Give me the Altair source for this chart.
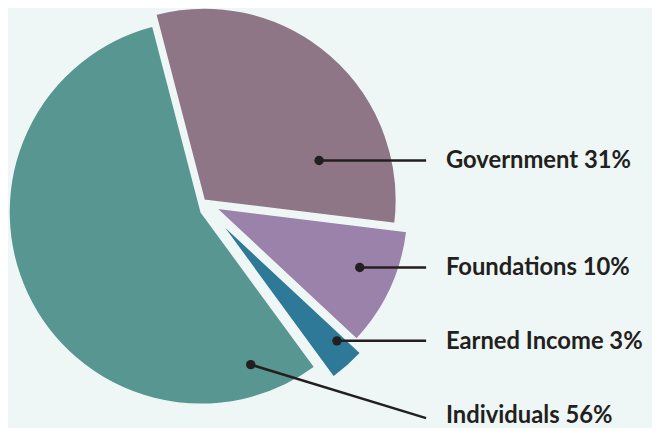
import math
import altair as alt
import pandas as pd

# ---- data ----
categories = ["Government", "Foundations", "Earned Income", "Individuals"]
shares = [31, 10, 3, 56]
labels = ["Government 31%", "Foundations 10%", "Earned Income 3%", "Individuals 56%"]
colors = ["#8f7686", "#9a82aa", "#2e7898", "#589692"]

# ---- layout (reference pixel space) ----
BG = "#eef7f5"
INK = "#231f20"
M = 8
W, H = 650, 420
START = math.radians(-14.6)
R = 194
centers = {
    "Government": (206, 200),
    "Foundations": (218, 208),
    "Earned Income": (222, 222),
    "Individuals": (203, 212),
}
dot_x = [322, 363, 340, 253]
dot_y = [160, 268, 342, 366]
end_x = [430, 430, 430, 430]
end_y = [160, 268, 342, 420]
text_x = [450, 450, 450, 450]
text_y = [161, 269, 343, 418]

pie_df = pd.DataFrame({"category": categories, "share": shares, "idx": list(range(len(categories)))})
ann_df = pd.DataFrame({
    "label": labels, "dx": dot_x, "dy": dot_y, "ex": end_x, "ey": end_y,
    "tx": text_x, "ty": text_y,
})

theta_scale = alt.Scale(domain=[0, 100], range=[START, START + 2 * math.pi])
color_scale = alt.Scale(domain=categories, range=colors)

base = alt.Chart(pie_df).transform_window(
    end="sum(share)", sort=[{"field": "idx"}], frame=[None, 0]
).transform_calculate(start="datum.end - datum.share")

arcs = []
for cat in categories:
    cx, cy = centers[cat]
    arcs.append(
        base.transform_filter(alt.datum.category == cat)
        .mark_arc(radius=R, stroke=BG, strokeWidth=1.5)
        .encode(
            theta=alt.Theta("start:Q", scale=theta_scale),
            theta2="end:Q",
            color=alt.Color("category:N", scale=color_scale, legend=None),
            x=alt.value(cx - M),
            y=alt.value(cy - M),
        )
    )

xs = alt.Scale(domain=[M, M + W], nice=False, zero=False)
ys = alt.Scale(domain=[M, M + H], nice=False, zero=False, reverse=True)

ann = alt.Chart(ann_df)
lines = ann.mark_rule(color=INK, strokeWidth=2.5).encode(
    x=alt.X("dx:Q", scale=xs, axis=None),
    y=alt.Y("dy:Q", scale=ys, axis=None),
    x2="ex:Q",
    y2="ey:Q",
)
dots = ann.mark_circle(color=INK, size=90, opacity=1).encode(
    x=alt.X("dx:Q", scale=xs, axis=None),
    y=alt.Y("dy:Q", scale=ys, axis=None),
)
texts = ann.mark_text(
    align="left", baseline="middle", font="Lato", fontWeight="bold",
    fontSize=24, color=INK,
).encode(
    x=alt.X("tx:Q", scale=xs, axis=None),
    y=alt.Y("ty:Q", scale=ys, axis=None),
    text="label:N",
)

chart = alt.layer(*arcs, lines, dots, texts).properties(
    width=W, height=H, padding=0, background=BG,
    autosize=alt.AutoSizeParams(type="none"),
).configure_view(stroke=None)

chart.save("out.html", embed_options={"renderer": "svg", "actions": False})
